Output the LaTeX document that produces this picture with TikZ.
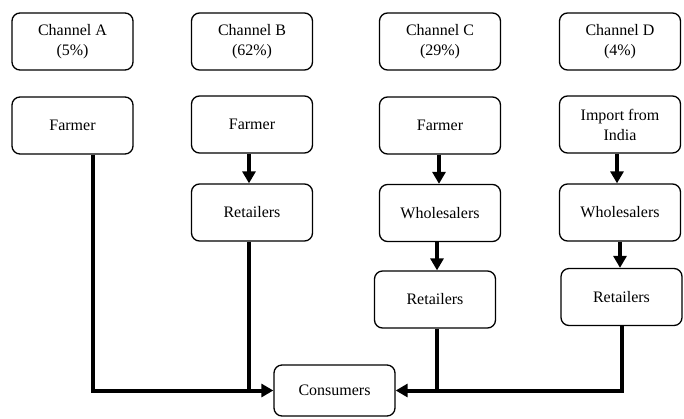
\documentclass[tikz,border=0pt]{standalone}
\usepackage{fontspec}
\setmainfont{Liberation Serif}
\usetikzlibrary{arrows.meta}
\begin{document}
\begin{tikzpicture}[x=1pt,y=-1pt,
  box/.style={draw, line width=1.3pt, rounded corners=8pt, minimum width=121pt, minimum height=57pt, align=center, inner sep=0pt, font=\fontsize{16}{20}\selectfont},
  flow/.style={line width=4pt},
  flowarrow/.style={line width=4pt, -{Triangle[length=12pt,width=13pt]}}]
\useasboundingbox (0,0) rectangle (684,418);
\node[box] (chA) at (72.5,41.5) {Channel A\\(5\%)};
\node[box] (chB) at (252,41.5) {Channel B\\(62\%)};
\node[box] (chC) at (440,41.5) {Channel C\\(29\%)};
\node[box] (chD) at (620,41.5) {Channel D\\(4\%)};
\node[box] (fA) at (72.5,125.5) {Farmer};
\node[box] (fB) at (252,124.5) {Farmer};
\node[box] (fC) at (440,125.5) {Farmer};
\node[box] (imp) at (620,124.5) {Import from\\India};
\node[box] (rB) at (252,212.5) {Retailers};
\node[box] (wC) at (440,213) {Wholesalers};
\node[box] (wD) at (620,212.5) {Wholesalers};
\node[box] (rC) at (435,299.5) {Retailers};
\node[box] (rD) at (621.5,297) {Retailers};
\node[box, minimum height=51pt] (cons) at (334.5,390.5) {Consumers};
% vertical arrows
\draw[flowarrow] ([xshift=-3pt]fB.south) -- ([xshift=-3pt]rB.north);
\draw[flowarrow] ([xshift=-1pt]fC.south) -- ([xshift=-1pt]fC.south |- wC.north);
\draw[flowarrow] ([xshift=-3pt]imp.south) -- ([xshift=-3pt]imp.south |- wD.north);
\draw[flowarrow] ([xshift=-3pt]wC.south) -- ([xshift=-3pt]wC.south |- rC.north);
\draw[flowarrow] ([xshift=0pt]wD.south) -- ([xshift=0pt]wD.south |- rD.north);
% to consumers
\draw[flowarrow] ([xshift=20pt]fA.south) |- (cons.west);
\draw[flow] ([xshift=-3pt]rB.south) -- ([xshift=-3pt]rB.south |- cons.west);
\draw[flowarrow] ([xshift=0pt]rD.south) |- (cons.east);
\draw[flow] ([xshift=2pt]rC.south) -- ([xshift=2pt]rC.south |- cons.east);
\end{tikzpicture}
\end{document}
